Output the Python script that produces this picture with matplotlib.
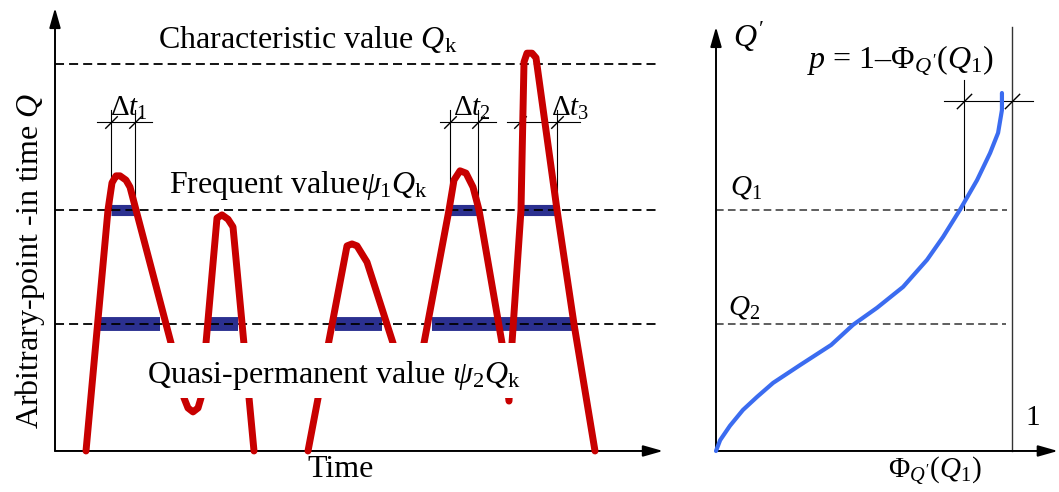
import numpy as np
import matplotlib.pyplot as plt

plt.rcParams['font.family'] = ['Liberation Serif', 'DejaVu Serif']
plt.rcParams['mathtext.fontset'] = 'custom'
plt.rcParams['mathtext.rm'] = 'Liberation Serif'
plt.rcParams['mathtext.it'] = 'Liberation Serif:italic'

# load levels (Q_k = 1)
q_k = 1.0
psi1 = 0.623
psi2 = 0.328

# red load history (time, Q); nan = break below the time axis
t_pts = [3.1, 5.3, 5.7, 6.1, 6.5, 7.1, 7.5, 8.1, 11.6, 12.9, 13.3, 13.8, 14.3, 14.6,
         15.1, 16.2, 16.7, 17.3, 17.8, 19.9, np.nan, 25.3, 29.2, 29.7, 30.2, 31.2,
         33.8, 34.5, 35.3, 36.1, 36.9, 39.4, 39.9, 40.5, 41.1, 41.8, 42.4, 44.7,
         45.4, 45.7, 46.6, 46.9, 47.2, 47.7, 48.1, 50.2, 51.9, 54.0]
q_pts = [0.0, 0.623, 0.693, 0.711, 0.711, 0.700, 0.682, 0.623, 0.279, 0.137, 0.111,
         0.101, 0.111, 0.137, 0.279, 0.602, 0.610, 0.599, 0.579, 0.0, np.nan, 0.0,
         0.530, 0.535, 0.530, 0.488, 0.279, 0.196, 0.171, 0.196, 0.279, 0.623,
         0.700, 0.724, 0.718, 0.682, 0.623, 0.279, 0.129, 0.279, 0.623, 1.005,
         1.028, 1.028, 1.016, 0.623, 0.328, 0.0]

# time intervals above the levels
freq_bars = [(5.6, 8.0), (39.5, 42.3), (46.5, 50.2)]
quasi_bars = [(4.3, 10.5), (15.5, 18.3), (28.0, 32.7), (37.7, 51.7)]
dt_lines = [(4.2, 9.7), (38.5, 44.1), (45.2, 52.5)]
dt_labels = [r'$\Delta t_1$', r'$\Delta t_2$', r'$\Delta t_3$']
dt_label_x = [7.4, 41.7, 51.5]

# distribution function of Q'
phi_pts = [0.0, 0.014, 0.047, 0.091, 0.139, 0.193, 0.284, 0.389, 0.463, 0.544,
           0.632, 0.713, 0.767, 0.824, 0.882, 0.926, 0.953, 0.966, 0.966]
qp_pts = [0.0, 0.028, 0.065, 0.106, 0.140, 0.176, 0.222, 0.274, 0.326, 0.370,
          0.424, 0.494, 0.553, 0.623, 0.700, 0.770, 0.822, 0.881, 0.925]
phi_q1 = 0.838

red = '#c80000'
navy = '#2b3090'
blue = '#3b6cf0'
fs = 21
fs_big = 23

fig = plt.figure(figsize=(10.59, 4.92), dpi=100)
ax = fig.add_axes([0, 0, 1, 1])
ax.set_xlim(-5.5, 100.4)
ax.set_ylim(-0.106, 1.1654)
ax.axis('off')

ax2 = fig.add_axes([0, 0, 1, 1])
ax2.set_xlim(-2.419, 1.1588)
ax2.set_ylim(-0.106, 1.1654)
ax2.axis('off')
ax2.patch.set_alpha(0)

arr = dict(arrowstyle='-|>,head_length=0.6,head_width=0.17', lw=1.4, color='black',
           mutation_scale=20, shrinkA=0, shrinkB=0)

# ---- left panel
ax.annotate('', xy=(0, 1.145), xytext=(0, 0), arrowprops=arr)
ax.annotate('', xy=(60.8, 0), xytext=(0, 0), arrowprops=arr)

for a, b in freq_bars:
    ax.plot([a, b], [psi1, psi1], color=navy, lw=8, solid_capstyle='butt', zorder=1)
for a, b in quasi_bars:
    ax.plot([a, b], [psi2, psi2], color=navy, lw=10, solid_capstyle='butt', zorder=1)

for lev in [q_k, psi1, psi2]:
    ax.plot([0, 60.3], [lev, lev], color='black', lw=1.3, dashes=(5, 2.8), zorder=2)

for (a, b), (v1, v2) in zip(dt_lines, freq_bars):
    ax.plot([a, b], [0.85, 0.85], color='black', lw=0.8, zorder=2)
    for v in (v1, v2):
        ax.plot([v, v], [psi1, 0.881], color='black', lw=0.8, zorder=2)
        ax.plot([v], [0.85], marker=[(-1, -1), (1, 1)], ms=9, mew=1.0,
                color='black', zorder=2)
for lab, x in zip(dt_labels, dt_label_x):
    ax.text(x, 0.886, lab, fontsize=fs, ha='center', va='center')

ax.plot(t_pts, q_pts, color=red, lw=5, solid_joinstyle='round',
        solid_capstyle='round', zorder=3)

# white band behind the quasi-permanent label
ax.fill_between([8.5, 47.3], 0.137, 0.279, color='white', lw=0, zorder=4)

ax.text(10.3, 1.041, r'Characteristic value $Q_\mathrm{k}$', fontsize=fs_big,
        va='baseline', zorder=5)
ax.text(11.4, 0.667, r'Frequent value$\psi_1 Q_\mathrm{k}$', fontsize=fs_big,
        va='baseline', zorder=5)
ax.text(9.2, 0.176, r'Quasi-permanent value $\psi_2 Q_\mathrm{k}$', fontsize=fs_big,
        va='baseline', zorder=5)
ax.text(28.6, -0.049, 'Time', fontsize=fs_big, ha='center', va='center')
ax.text(-2.5, 0.491, r'Arbitrary-point -in time $Q$', fontsize=fs_big, rotation=90,
        ha='center', va='center')

# ---- right panel
ax2.annotate('', xy=(0, 1.096), xytext=(0, 0), arrowprops=arr)
ax2.annotate('', xy=(1.155, 0), xytext=(0, 0), arrowprops=arr)
ax2.plot([1, 1], [0, 1.096], color='#333333', lw=1.0)
ax2.plot([0, 0.983], [psi1, psi1], color='#333333', lw=1.1, dashes=(5, 2.8))
ax2.plot([0, 0.980], [psi2, psi2], color='#333333', lw=1.1, dashes=(5, 2.8))
ax2.plot([phi_q1, phi_q1], [psi1, 0.959], color='black', lw=0.8)
ax2.plot([0.770, 1.071], [0.904, 0.904], color='black', lw=0.8)
ax2.plot([phi_q1, 1], [0.904, 0.904], ls='none', marker=[(-1, -1), (1, 1)], ms=11,
         mew=1.0, color='black')
ax2.plot(phi_pts, qp_pts, color=blue, lw=3, solid_capstyle='round',
         solid_joinstyle='round', zorder=3)

ax2.text(0.057, 1.07, r"$Q'$", fontsize=fs_big, va='center')
ax2.text(0.307, 1.010, r"$p$ = 1–$\Phi_{Q'}(Q_1)$", fontsize=fs_big, va='center')
ax2.text(0.047, 0.682, r'$Q_1$', fontsize=fs, va='center')
ax2.text(0.04, 0.372, r'$Q_2$', fontsize=fs, va='center')
ax2.text(1.071, 0.085, '1', fontsize=fs, ha='center', va='center')
ax2.text(0.581, -0.049, r"$\Phi_{Q'}(Q_1)$", fontsize=fs, va='center')

fig.savefig('out.png', dpi=100)
